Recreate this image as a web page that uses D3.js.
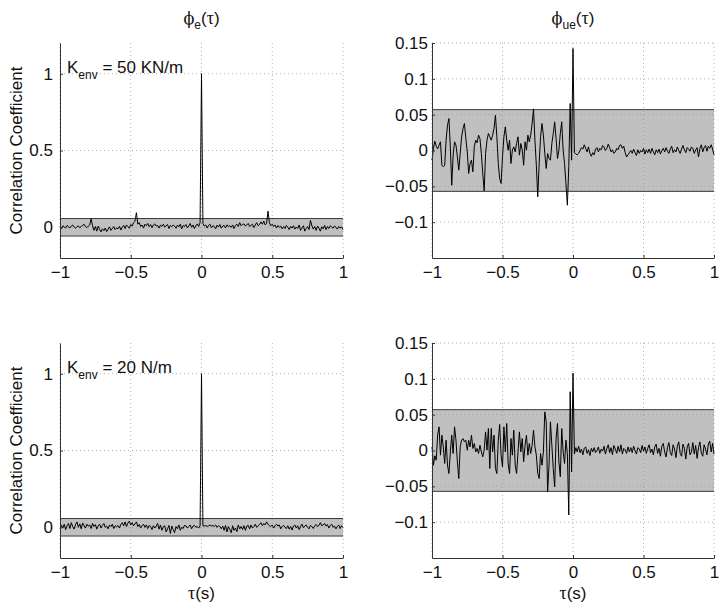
<!DOCTYPE html>
<html>
<head>
<meta charset="utf-8">
<script src="https://cdn.jsdelivr.net/npm/d3@7"></script>
<style>
  html, body { margin: 0; padding: 0; background: #fff; }
  svg { display: block; }
  text { font-family: "Liberation Sans", Arial, Helvetica, sans-serif; fill: #111; }
</style>
</head>
<body>
<div id="chart"></div>
<script>
// ---------------- data ----------------
const xTicks = [-1, -0.5, 0, 0.5, 1];
const yTicksLeft = [0, 0.5, 1];
const yTicksRight = [-0.1, -0.05, 0, 0.05, 0.1, 0.15];
const yDomainLeft = [-0.2, 1.2];
const yDomainRight = [-0.15, 0.15];
const confBand = [-0.057, 0.057];
const lagStart = -1, lagStep = 0.01;

const columnTitles = [["e"], ["ue"]];
const stiffnessLabels = [{ value: "50 KN/m" }, { value: "20 N/m" }];

// phi_e(tau), K_env = 50 KN/m
const phiE50 = [0.005,-0.008,0.010,0.002,-0.005,0.012,0.003,-0.004,0.008,0.015,0.002,-0.006,0.004,0.009,-0.003,0.006,0.012,0.020,0.005,-0.002,0.008,
 0.015,0.055,0.010,-0.020,0.005,-0.025,0.008,-0.015,-0.030,-0.010,-0.022,-0.005,-0.028,-0.012,0.003,-0.020,-0.008,0.005,-0.015,-0.004,
 -0.010,0.006,-0.018,0.002,0.012,-0.008,0.015,0.005,-0.006,0.018,0.008,0.030,0.040,0.095,0.020,0.030,0.005,0.015,-0.005,0.020,
 0.010,0.025,0.005,0.018,-0.003,0.015,0.022,0.008,0.012,-0.005,0.014,0.006,0.020,0.002,0.010,0.018,-0.008,0.012,0.004,0.015,
 0.008,-0.006,0.014,0.003,0.020,-0.010,0.012,0.005,0.018,-0.004,0.008,0.025,0.000,0.015,-0.008,0.010,0.022,0.005,0.030,
 1.000,
 0.025,0.008,0.015,-0.005,0.012,0.020,-0.003,0.010,0.006,-0.010,0.014,0.002,0.018,-0.006,0.008,0.012,-0.004,0.016,0.005,0.010,
 0.000,0.015,-0.008,0.012,0.020,0.005,0.030,0.010,0.018,0.022,0.008,0.015,0.025,0.006,0.012,0.020,-0.002,0.015,0.030,0.010,0.018,0.035,0.020,0.040,0.015,0.025,
 0.105,0.030,0.010,0.020,
 0.005,0.015,-0.005,0.012,0.000,0.008,-0.010,0.005,-0.008,0.012,0.000,-0.015,0.006,-0.005,0.010,-0.012,0.002,-0.008,0.015,-0.020,
 -0.005,0.010,-0.025,-0.008,0.005,-0.015,0.045,0.010,-0.012,0.005,-0.020,0.008,-0.005,-0.025,0.003,-0.010,0.012,-0.015,0.005,-0.008,0.010,0.002,-0.006,0.008,0.000,-0.012,0.005,-0.005,0.003,-0.015];

// phi_ue(tau), K_env = 50 KN/m
const phiUE50 = [-0.0135,0.0028,0.0130,0.0060,0.0023,0.0074,0.0121,-0.0205,-0.0228,-0.0209,
 0.0144,0.0353,0.0446,0.0051,-0.0484,-0.0065,0.0121,0.0074,-0.0088,-0.0274,
 -0.0042,0.0191,0.0307,0.0377,0.0167,-0.0019,-0.0321,-0.0181,-0.0135,-0.0298,
 0.0051,0.0144,0.0107,0.0214,0.0167,-0.0042,-0.0321,-0.0563,-0.0042,0.0144,
 0.0237,0.0191,0.0144,0.0214,0.0307,0.0493,0.0191,-0.0181,-0.0391,-0.0460,
 -0.0088,0.0191,0.0330,0.0144,0.0005,0.0144,-0.0181,0.0005,0.0051,-0.0019,
 0.0098,0.0191,-0.0065,0.0098,0.0005,-0.0205,0.0121,0.0005,0.0214,0.0121,
 0.0214,0.0377,0.0581,0.0144,-0.0205,-0.0646,-0.0181,0.0191,0.0377,0.0214,
 -0.0042,-0.0251,-0.0042,-0.0112,-0.0135,0.0098,0.0237,0.0400,0.0167,-0.0112,
 0.0005,0.0237,0.0400,0.0005,-0.0181,-0.0460,-0.0763,-0.0228,0.0656,-0.0135,
 0.1423,
 -0.003,-0.005,-0.006,-0.004,0.000,0.004,0.002,0.008,0.003,-0.002,
 0.005,-0.004,-0.008,-0.003,-0.006,0.002,0.004,-0.002,0.003,0.001,
 0.007,0.005,0.000,0.003,0.009,0.004,-0.002,0.001,-0.004,-0.002,
 0.003,0.001,0.007,0.008,0.003,0.006,-0.003,-0.009,-0.006,-0.003,
 0.000,-0.004,0.002,-0.003,-0.007,0.001,-0.004,0.000,-0.002,0.003,
 -0.005,0.001,-0.003,0.002,-0.004,0.003,-0.002,-0.006,0.001,-0.003,
 0.002,-0.005,0.000,0.003,-0.002,0.004,-0.001,-0.004,0.002,0.006,
 -0.003,0.001,-0.002,0.005,0.000,-0.004,0.002,0.007,0.001,-0.003,
 0.004,0.002,-0.001,0.005,0.003,-0.004,0.001,0.004,-0.009,0.003,
 0.008,-0.002,0.004,0.007,-0.001,0.006,0.003,0.008,0.002,-0.006];

// phi_e(tau), K_env = 20 N/m
const phiE20 = [-0.010,0.015,-0.005,0.020,-0.015,0.010,0.025,-0.008,0.030,0.005,-0.012,0.018,0.035,0.000,0.022,-0.010,0.028,0.010,-0.005,0.020,0.008,
 0.015,-0.008,0.025,0.005,0.018,-0.012,0.010,0.020,-0.005,0.012,0.025,0.000,0.008,-0.010,0.015,0.005,0.020,-0.008,0.010,0.003,
 0.012,-0.005,0.018,0.030,0.010,0.035,0.005,0.028,0.040,0.015,0.030,0.010,0.022,0.035,0.005,0.018,-0.005,0.010,0.020,0.000,
 0.015,-0.008,0.012,0.005,-0.015,0.010,-0.005,0.008,0.025,-0.012,0.015,-0.020,0.005,0.010,-0.030,-0.010,0.012,-0.040,0.008,-0.015,
 -0.035,0.005,-0.010,0.015,-0.020,0.000,-0.008,0.012,0.010,-0.005,0.005,0.015,-0.010,0.008,0.012,0.000,0.005,-0.005,0.010,
 1.000,
 0.010,0.008,0.012,0.005,0.010,0.015,0.008,0.012,0.006,0.015,0.000,0.010,0.005,-0.010,0.008,-0.020,0.012,-0.030,0.005,-0.015,
 -0.035,0.010,-0.020,-0.005,-0.028,0.015,-0.010,0.005,-0.015,0.010,-0.020,0.008,0.012,-0.010,0.015,-0.005,0.005,0.020,0.000,0.010,
 0.018,0.030,0.010,0.025,0.015,0.035,0.020,0.010,0.005,0.015,-0.005,0.010,0.020,0.008,0.015,-0.010,0.005,0.012,0.000,-0.008,
 0.010,-0.012,0.005,-0.018,0.008,0.015,-0.005,0.010,-0.015,0.005,0.020,-0.003,0.008,0.015,0.000,-0.010,0.012,0.005,-0.008,0.010,
 0.018,0.005,0.012,0.030,0.010,0.015,0.025,0.008,0.018,-0.005,0.012,0.020,0.000,0.008,-0.010,0.005,0.015,-0.008,0.010,-0.002];

// phi_ue(tau), K_env = 20 N/m
const phiUE20 = [0.0051,-0.0205,-0.0074,-0.0135,0.0214,0.0330,-0.0065,0.0214,0.0051,-0.0181,
 0.0144,-0.0205,-0.0321,-0.0019,0.0214,-0.0042,0.0330,0.0144,-0.0158,-0.0391,
 0.0051,0.0144,0.0167,0.0121,0.0144,0.0005,0.0144,0.0051,0.0214,0.0028,
 0.0098,-0.0019,0.0028,-0.0042,0.0074,-0.0019,-0.0088,0.0005,0.0260,0.0005,
 0.0307,-0.0251,0.0307,-0.0019,0.0214,-0.0251,-0.0321,0.0144,0.0363,-0.0065,
 -0.0228,0.0330,-0.0019,0.0377,-0.0181,-0.0321,0.0167,-0.0065,0.0284,-0.0205,
 -0.0321,-0.0019,0.0260,-0.0019,0.0167,-0.0158,0.0074,0.0214,-0.0065,0.0098,
 -0.0042,0.0074,0.0284,0.0051,-0.0065,-0.0321,-0.0391,-0.0042,-0.0205,-0.0019,
 0.0539,0.0400,-0.0577,-0.0205,0.0400,0.0074,-0.0251,-0.0507,0.0167,0.0377,
 -0.0158,-0.0367,0.0307,-0.0019,-0.0181,0.0144,-0.0042,-0.0900,0.0820,-0.0300,
 0.108,
 -0.005,0.004,-0.002,0.006,-0.003,0.002,-0.006,0.003,0.005,-0.004,
 0.001,-0.007,0.003,-0.002,0.004,-0.003,0.000,0.005,-0.004,0.002,
 -0.001,0.006,-0.005,0.003,0.008,-0.003,0.004,-0.006,0.007,0.002,
 -0.004,0.006,-0.002,0.008,-0.005,0.003,0.001,-0.004,0.005,-0.002,
 0.004,-0.003,0.006,0.000,-0.005,0.004,0.002,-0.003,0.007,-0.001,
 0.005,-0.004,0.003,0.008,-0.003,0.002,-0.006,0.005,0.009,-0.004,
 0.003,-0.008,0.006,0.010,-0.002,-0.009,0.004,0.011,-0.003,-0.007,
 0.008,0.002,-0.010,0.006,0.012,-0.004,-0.008,0.009,0.003,-0.012,
 0.005,0.010,-0.006,-0.002,0.011,-0.005,0.007,-0.011,0.004,0.012,
 -0.003,-0.008,0.008,0.002,-0.006,0.009,0.013,-0.002,0.010,-0.005];

// ---------------- drawing ----------------
const W = 724, H = 611;
const svg = d3.select("#chart").append("svg").attr("width", W).attr("height", H);

const FONT = 17;
const colX = [[60, 343], [432, 714]];
const rowY = [[43, 258], [343, 558]];

const panels = [
  { c: 0, r: 0, data: phiE50, ydom: yDomainLeft, yticks: yTicksLeft, topGrid: false },
  { c: 1, r: 0, data: phiUE50, ydom: yDomainRight, yticks: yTicksRight, topGrid: true },
  { c: 0, r: 1, data: phiE20, ydom: yDomainLeft, yticks: yTicksLeft, topGrid: false },
  { c: 1, r: 1, data: phiUE20, ydom: yDomainRight, yticks: yTicksRight, topGrid: true }
];

const fmt = v => (v < 0 ? "\u2212" : "") + String(Math.abs(v));

panels.forEach(p => {
  const [x0, x1] = colX[p.c];
  const [y0, y1] = rowY[p.r];
  const x = d3.scaleLinear().domain([-1, 1]).range([x0, x1]);
  const y = d3.scaleLinear().domain(p.ydom).range([y1, y0]);
  const g = svg.append("g");

  // confidence band
  g.append("rect")
    .attr("x", x(-1)).attr("width", x(1) - x(-1))
    .attr("y", y(confBand[1])).attr("height", y(confBand[0]) - y(confBand[1]))
    .attr("fill", "#c0c0c0");

  // grid
  const gridStyle = s => s.attr("stroke", "#9a9a9a").attr("stroke-width", 0.8).attr("stroke-dasharray", "1,3");
  g.selectAll(".gx").data(xTicks).enter().append("line")
    .attr("x1", d => x(d)).attr("x2", d => x(d)).attr("y1", y0).attr("y2", y1).call(gridStyle);
  g.selectAll(".gy").data(p.yticks).enter().append("line")
    .attr("x1", x0).attr("x2", x1).attr("y1", d => y(d)).attr("y2", d => y(d)).call(gridStyle);

  // band edges
  confBand.forEach(b => {
    g.append("line").attr("x1", x(-1)).attr("x2", x(1)).attr("y1", y(b)).attr("y2", y(b))
      .attr("stroke", "#3a3a3a").attr("stroke-width", 1);
  });

  // series
  const pts = p.data.map((v, i) => [lagStart + i * lagStep, v]);
  g.append("path").datum(pts)
    .attr("fill", "none").attr("stroke", "#000").attr("stroke-width", 1)
    .attr("stroke-linejoin", "round")
    .attr("d", d3.line().x(d => x(d[0])).y(d => y(d[1])));

  // axes
  const ax = g.append("g").attr("transform", `translate(0,${y1})`)
    .call(d3.axisBottom(x).tickValues(xTicks).tickSizeInner(-3).tickSizeOuter(0).tickPadding(8).tickFormat(fmt));
  const ay = g.append("g").attr("transform", `translate(${x0},0)`)
    .call(d3.axisLeft(y).tickValues(p.yticks).tickSizeInner(-3).tickSizeOuter(0).tickPadding(p.c === 0 ? 7 : 4).tickFormat(fmt));
  [ax, ay].forEach(a => {
    a.select(".domain").attr("stroke", "#333").attr("stroke-width", 1);
    a.selectAll(".tick line").attr("stroke", "#333");
    a.selectAll(".tick text").attr("font-size", FONT)
      .attr("font-family", '"Liberation Sans", Arial, sans-serif').attr("fill", "#111");
  });
  ax.selectAll(".tick text").attr("dy", "0.71em");
});

// column titles
function greekTitle(cx, sub) {
  const t = svg.append("text").attr("x", cx).attr("y", 24).attr("text-anchor", "middle").attr("font-size", FONT);
  t.append("tspan").attr("font-family", '"DejaVu Serif", "Liberation Serif", serif').attr("font-size", FONT - 1).text("\u03D5");
  t.append("tspan").attr("font-size", 12).attr("dy", 5).text(sub);
  t.append("tspan").attr("dy", -5).text("(");
  t.append("tspan").attr("font-family", '"Liberation Serif", serif').attr("font-size", FONT + 1).text("\u03C4");
  t.append("tspan").text(")");
}
greekTitle((colX[0][0] + colX[0][1]) / 2, columnTitles[0][0]);
greekTitle((colX[1][0] + colX[1][1]) / 2, columnTitles[1][0]);

// x labels (bottom row)
[0, 1].forEach(c => {
  const t = svg.append("text").attr("x", (colX[c][0] + colX[c][1]) / 2).attr("y", 599)
    .attr("text-anchor", "middle").attr("font-size", FONT);
  t.append("tspan").attr("font-family", '"Liberation Serif", serif').attr("font-size", FONT + 1).text("\u03C4");
  t.append("tspan").text("(s)");
});

// y labels and K_env annotations
[0, 1].forEach(r => {
  const cy = (rowY[r][0] + rowY[r][1]) / 2;
  svg.append("text").attr("transform", `translate(22,${cy}) rotate(-90)`)
    .attr("text-anchor", "middle").attr("font-size", FONT).text("Correlation Coefficient");
  const k = svg.append("text").attr("x", 67).attr("y", rowY[r][0] + 30).attr("font-size", FONT);
  k.append("tspan").text("K");
  k.append("tspan").attr("font-size", 12).attr("dy", 6).text("env");
  k.append("tspan").attr("dy", -6).text(" = " + stiffnessLabels[r].value);
});
</script>
</body>
</html>
